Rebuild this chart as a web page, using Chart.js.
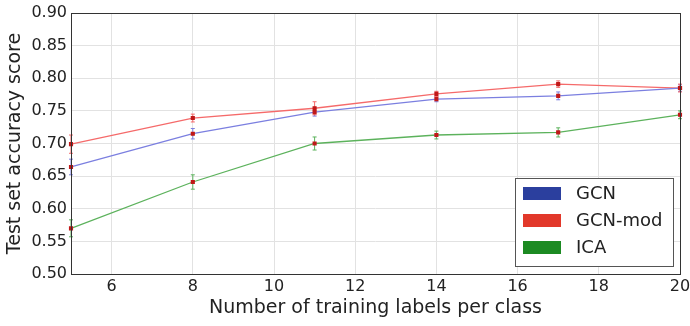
<!DOCTYPE html>
<html>
<head>
<meta charset="utf-8">
<script src="https://cdn.jsdelivr.net/npm/chart.js@4"></script>
<style>
  html, body { margin: 0; padding: 0; background: #fff; }
  #wrap { width: 690px; height: 326px; }
</style>
</head>
<body>
<div id="wrap"><canvas id="chart"></canvas></div>
<script>
const labelsPerClass = [5, 8, 11, 14, 17, 20];
const xTicks = [6, 8, 10, 12, 14, 16, 18, 20];

const gcn = [0.664, 0.715, 0.748, 0.768, 0.773, 0.785];
const gcnErr = [0.012, 0.008, 0.006, 0.004, 0.006, 0.005];
const gcnMod = [0.699, 0.739, 0.754, 0.776, 0.791, 0.785];
const gcnModErr = [0.014, 0.006, 0.010, 0.004, 0.005, 0.006];
const ica = [0.570, 0.641, 0.700, 0.713, 0.717, 0.744];
const icaErr = [0.013, 0.011, 0.010, 0.006, 0.007, 0.006];

const FONT = "'DejaVu Sans', sans-serif";

function series(label, values, errs, lineColor, patchColor) {
  return {
    label: label,
    data: labelsPerClass.map((x, i) => ({ x: x, y: values[i] })),
    errors: errs,
    patchColor: patchColor,
    borderColor: lineColor,
    borderWidth: 1.3,
    tension: 0,
    fill: false,
    pointStyle: 'rect',
    pointRadius: 2,
    pointBackgroundColor: '#c01818',
    pointBorderColor: '#c01818',
    clip: false
  };
}

// vertical error bars with caps, using the scales
const errorBars = {
  id: 'errorBars',
  beforeDatasetsDraw(chart) {
    const ctx = chart.ctx;
    const yScale = chart.scales.y;
    chart.data.datasets.forEach((ds, di) => {
      const meta = chart.getDatasetMeta(di);
      ctx.save();
      ctx.strokeStyle = ds.borderColor;
      ctx.lineWidth = 1;
      meta.data.forEach((pt, i) => {
        const v = ds.data[i].y, e = ds.errors[i];
        const y1 = yScale.getPixelForValue(v - e);
        const y2 = yScale.getPixelForValue(v + e);
        ctx.beginPath();
        ctx.moveTo(pt.x, y1); ctx.lineTo(pt.x, y2);
        ctx.moveTo(pt.x - 2, y1); ctx.lineTo(pt.x + 2, y1);
        ctx.moveTo(pt.x - 2, y2); ctx.lineTo(pt.x + 2, y2);
        ctx.stroke();
      });
      ctx.restore();
    });
  }
};

// frame around plot + legend box inside lower right
const frameLegend = {
  id: 'frameLegend',
  afterDraw(chart) {
    const ctx = chart.ctx;
    const a = chart.chartArea;
    ctx.save();
    ctx.strokeStyle = '#333';
    ctx.lineWidth = 1;
    ctx.strokeRect(Math.round(a.left) + 0.5, Math.round(a.top) + 0.5,
                   Math.round(a.right - a.left), Math.round(a.bottom - a.top));

    const boxW = 158, boxH = 88;
    const bx = a.right - 7 - boxW, by = a.bottom - 8 - boxH;
    ctx.fillStyle = '#fff';
    ctx.fillRect(bx, by, boxW, boxH);
    ctx.strokeStyle = '#555';
    ctx.strokeRect(Math.round(bx) + 0.5, Math.round(by) + 0.5, boxW, boxH);
    ctx.font = '18px ' + FONT;
    ctx.textBaseline = 'middle';
    chart.data.datasets.forEach((ds, i) => {
      const cy = by + 15.5 + i * 27;
      ctx.fillStyle = ds.patchColor;
      ctx.fillRect(bx + 8, cy - 6.5, 38, 13);
      ctx.fillStyle = '#222';
      ctx.fillText(ds.label, bx + 61, cy + 1);
    });
    ctx.restore();
  }
};

new Chart(document.getElementById('chart'), {
  type: 'line',
  data: {
    datasets: [
      series('GCN', gcn, gcnErr, '#7b7fe0', '#2b3f9e'),
      series('GCN-mod', gcnMod, gcnModErr, '#f56a6a', '#e2382a'),
      series('ICA', ica, icaErr, '#5cb25c', '#1c8a22')
    ]
  },
  options: {
    responsive: true,
    maintainAspectRatio: false,
    animation: false,
    layout: { padding: { left: 0, right: 10, top: 13, bottom: 0 } },
    plugins: { legend: { display: false }, tooltip: { enabled: false } },
    scales: {
      x: {
        type: 'linear',
        min: 5,
        max: 20,
        afterBuildTicks(scale) { scale.ticks = xTicks.map(v => ({ value: v })); },
        afterFit(scale) { scale.height = 52; scale.paddingRight = 0; scale.paddingLeft = 0; },
        grid: { color: '#e2e2e2', drawTicks: false },
        border: { display: false },
        ticks: { color: '#222', font: { family: FONT, size: 16 }, padding: 3, maxRotation: 0 },
        title: {
          display: true,
          text: 'Number of training labels per class',
          color: '#222',
          font: { family: FONT, size: 19 },
          padding: { top: 0, bottom: 7 }
        }
      },
      y: {
        min: 0.5,
        max: 0.9,
        afterFit(scale) { scale.width = 71; scale.paddingTop = 0; scale.paddingBottom = 0; },
        grid: { color: '#e2e2e2', drawTicks: false },
        border: { display: false },
        ticks: {
          stepSize: 0.05,
          color: '#222',
          font: { family: FONT, size: 16 },
          padding: 4,
          callback: v => v.toFixed(2)
        },
        title: {
          display: true,
          text: 'Test set accuracy score',
          color: '#222',
          font: { family: FONT, size: 19 },
          padding: { top: 4, bottom: 0 }
        }
      }
    }
  },
  plugins: [errorBars, frameLegend]
});
</script>
</body>
</html>
